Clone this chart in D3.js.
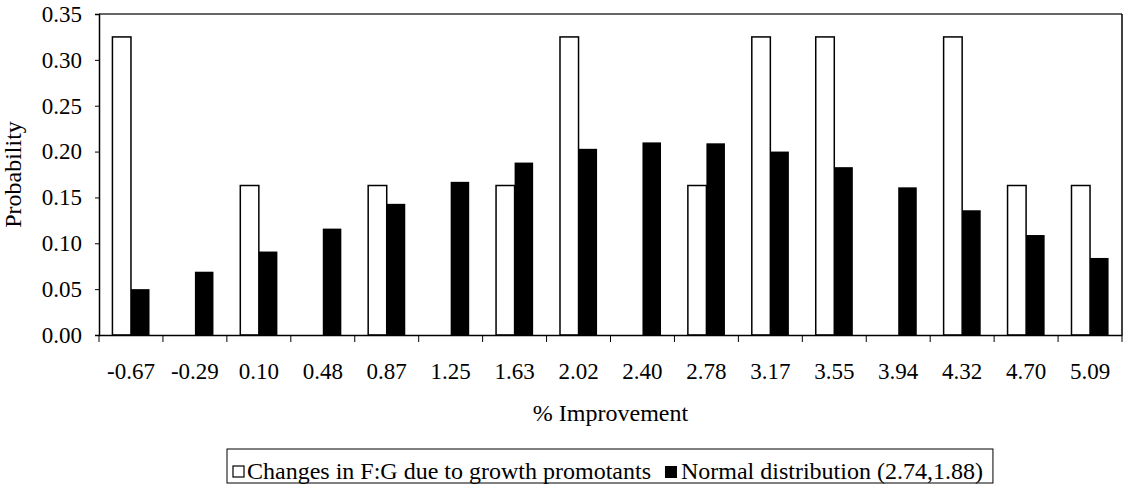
<!DOCTYPE html>
<html>
<head>
<meta charset="utf-8">
<script src="https://cdn.jsdelivr.net/npm/d3@7/dist/d3.min.js"></script>
<style>
  html, body { margin: 0; padding: 0; background: #fff; }
  svg { display: block; }
  text { font-family: "Liberation Serif", "Times New Roman", serif; fill: #000; }
</style>
</head>
<body>
<svg id="chart" width="1126" height="486"></svg>
<script>
// ---- data ----
const categories = ["-0.67","-0.29","0.10","0.48","0.87","1.25","1.63","2.02","2.40","2.78","3.17","3.55","3.94","4.32","4.70","5.09"];
const seriesNames = ["Changes in F:G due to growth promotants", "Normal distribution (2.74,1.88)"];
const changesValues = [0.325, 0, 0.163, 0, 0.163, 0, 0.163, 0.325, 0, 0.163, 0.325, 0.325, 0, 0.325, 0.163, 0.163];
const normalValues  = [0.050, 0.069, 0.091, 0.116, 0.143, 0.167, 0.188, 0.203, 0.210, 0.209, 0.200, 0.183, 0.161, 0.136, 0.109, 0.084];
const yTicks = [0, 0.05, 0.10, 0.15, 0.20, 0.25, 0.30, 0.35];
const xTitle = "% Improvement";
const yTitle = "Probability";

// ---- layout ----
const svg = d3.select("#chart");
const L = 99, R = 1122, T = 14, B = 335;

const x = d3.scaleBand().domain(categories).range([L, R]).paddingInner(0.42).paddingOuter(0.21);
const sub = d3.scaleBand().domain([0, 1]).range([0, x.bandwidth()]);
const y = d3.scaleLinear().domain([0, 0.35]).range([B, T]);

// frame (top and right)
svg.append("line").attr("x1", L).attr("x2", R).attr("y1", T).attr("y2", T)
  .attr("stroke", "#333").attr("stroke-width", 1.5);
svg.append("line").attr("x1", R).attr("x2", R).attr("y1", T).attr("y2", B)
  .attr("stroke", "#000").attr("stroke-width", 1.5);

// bars
const groups = svg.append("g").selectAll("g").data(categories).join("g")
  .attr("transform", d => `translate(${x(d)},0)`);

groups.append("rect")
  .attr("x", sub(0)).attr("width", sub.bandwidth())
  .attr("y", (d, i) => y(changesValues[i]))
  .attr("height", (d, i) => B - y(changesValues[i]))
  .attr("fill", "#fff").attr("stroke", "#000").attr("stroke-width", 1.5);

groups.append("rect")
  .attr("x", sub(1)).attr("width", sub.bandwidth())
  .attr("y", (d, i) => y(normalValues[i]))
  .attr("height", (d, i) => B - y(normalValues[i]))
  .attr("fill", "#000");

// y axis
const yAxis = d3.axisLeft(y).tickValues(yTicks).tickFormat(d3.format(".2f")).tickSize(4).tickPadding(13);
const gy = svg.append("g").attr("transform", `translate(${L},0)`).call(yAxis);
gy.attr("font-family", null);
gy.select(".domain").attr("stroke", "#000").attr("stroke-width", 1.5);
gy.selectAll(".tick line").attr("stroke", "#000");
gy.selectAll("text").style("font-size", "23px");

// x axis (labels centered in category, ticks at boundaries)
const xAxis = d3.axisBottom(x).tickSize(0).tickPadding(28).tickSizeOuter(0);
const gx = svg.append("g").attr("transform", `translate(0,${B})`).call(xAxis);
gx.attr("font-family", null);
gx.select(".domain").attr("stroke", "#000").attr("stroke-width", 1.5);
gx.selectAll("text").style("font-size", "23px");

const step = x.step();
const boundaries = categories.map(c => x(c) - step * x.paddingInner() / 2).concat([R]);
svg.append("g").selectAll("line").data(boundaries).join("line")
  .attr("x1", d => d).attr("x2", d => d).attr("y1", B).attr("y2", B + 7)
  .attr("stroke", "#000").attr("stroke-width", 1);

// axis titles
svg.append("text").attr("x", (L + R) / 2).attr("y", 421).attr("text-anchor", "middle")
  .style("font-size", "24px").text(xTitle);
svg.append("text").attr("transform", `translate(21,${(T + B) / 2}) rotate(-90)`)
  .attr("text-anchor", "middle").style("font-size", "24px").text(yTitle);

// legend
const leg = svg.append("g");
const legBox = leg.append("rect").attr("fill", "#fff").attr("stroke", "#000").attr("stroke-width", 1);
const baseY = 479;
let cx = 233;
const sq = 11;
leg.append("rect").attr("x", cx).attr("y", baseY - 13).attr("width", sq).attr("height", sq)
  .attr("fill", "#fff").attr("stroke", "#000").attr("stroke-width", 1.2);
cx += sq + 3;
const t1 = leg.append("text").attr("x", cx).attr("y", baseY).style("font-size", "24px").text(seriesNames[0]);
cx += t1.node().getComputedTextLength() + 14;
leg.append("rect").attr("x", cx).attr("y", baseY - 13).attr("width", 12).attr("height", 12).attr("fill", "#000");
cx += 12 + 4;
const t2 = leg.append("text").attr("x", cx).attr("y", baseY).style("font-size", "24px").text(seriesNames[1]);
cx += t2.node().getComputedTextLength() + 10;
legBox.attr("x", 227).attr("y", 449).attr("width", cx - 227).attr("height", 34);
</script>
</body>
</html>
